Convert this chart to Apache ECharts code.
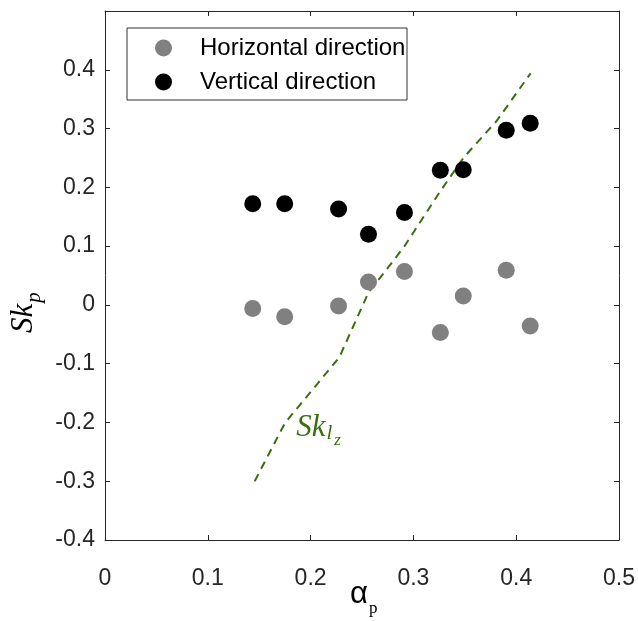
<!DOCTYPE html>
<html>
<head>
<meta charset="utf-8">
<script src="https://cdn.jsdelivr.net/npm/echarts@6/dist/echarts.min.js"></script>
<style>html,body{margin:0;padding:0;background:#fff}#c{width:638px;height:621px}</style>
</head>
<body>
<div id="c"></div>
<script>
// data
const alphaP = [0.1437, 0.1748, 0.2272, 0.2563, 0.2913, 0.3262, 0.3485, 0.3903, 0.4136];
const skHorizontal = [-0.006, -0.020, -0.002, 0.039, 0.057, -0.047, 0.015, 0.059, -0.036];
const skVertical = [0.172, 0.172, 0.163, 0.120, 0.157, 0.229, 0.230, 0.297, 0.309];
const lineX = [0.1456, 0.175, 0.228, 0.256, 0.291, 0.326, 0.349, 0.381, 0.414];
const lineY = [-0.300, -0.201, -0.089, 0.020, 0.099, 0.193, 0.251, 0.313, 0.394];
const xTicks = [0, 0.1, 0.2, 0.3, 0.4, 0.5];
const yTicks = [-0.4, -0.3, -0.2, -0.1, 0, 0.1, 0.2, 0.3, 0.4];
const seriesNames = ['Horizontal direction', 'Vertical direction'];

const zip = (a, b) => a.map((v, i) => [v, b[i]]);
const axisCol = '#262626';
const sans = 'Liberation Sans, Arial, Helvetica, sans-serif';
const serif = 'Liberation Serif, Times New Roman, serif';
const tickFont = {fontFamily: sans, fontSize: 23, color: axisCol};
const green = '#3a6e0c';

const chart = echarts.init(document.getElementById('c'), null, {renderer: 'canvas'});
const grid = {left: 105, top: 11, width: 515, height: 529};
const baseAxis = {
  axisLine: {show: true, onZero: false, lineStyle: {color: axisCol, width: 1}},
  axisTick: {show: true, inside: true, length: 5, lineStyle: {color: axisCol}},
  splitLine: {show: false}
};
chart.setOption({
  animation: false,
  grid: grid,
  xAxis: [
    Object.assign({type: 'value', min: 0, max: 0.5, interval: 0.1, position: 'bottom',
      axisLabel: Object.assign({margin: 27, formatter: v => xTicks.some(t => Math.abs(t - v) < 1e-9) ? String(+v.toFixed(2)) : ''}, tickFont)}, baseAxis),
    Object.assign({type: 'value', min: 0, max: 0.5, interval: 0.1, position: 'top', axisLabel: {show: false}}, baseAxis)
  ],
  yAxis: [
    Object.assign({type: 'value', min: -0.4, max: 0.5, interval: 0.1, position: 'left',
      axisLabel: Object.assign({margin: 10, formatter: v => yTicks.some(t => Math.abs(t - v) < 1e-9) ? String(+v.toFixed(2)) : ''}, tickFont)}, baseAxis),
    Object.assign({type: 'value', min: -0.4, max: 0.5, interval: 0.1, position: 'right', axisLabel: {show: false}}, baseAxis)
  ],
  legend: {
    orient: 'vertical', left: 150, top: 31, itemWidth: 17, itemHeight: 17, itemGap: 10,
    data: seriesNames.map(n => ({name: n, icon: 'circle'})),
    textStyle: {fontFamily: sans, fontSize: 24, lineHeight: 24, color: '#000', padding: [0, 0, 0, 23]}
  },
  series: [
    {name: 'Sklz', type: 'line', data: zip(lineX, lineY), symbol: 'none', silent: true,
      lineStyle: {color: green, width: 2, type: [8, 6]}, z: 1},
    {name: seriesNames[0], type: 'scatter', data: zip(alphaP, skHorizontal), symbolSize: 17,
      itemStyle: {color: '#808080', opacity: 1}, z: 3},
    {name: seriesNames[1], type: 'scatter', data: zip(alphaP, skVertical), symbolSize: 17,
      itemStyle: {color: '#000000', opacity: 1}, z: 3}
  ]
});

const lab = chart.convertToPixel({gridIndex: 0}, [0.186, -0.196]);
chart.setOption({
  graphic: [
    {type: 'rect', shape: {x: 127, y: 28, width: 280, height: 72}, style: {fill: 'none', stroke: '#333', lineWidth: 1}, z: 10},
    {type: 'text', x: lab[0], y: lab[1], style: {
      text: '{s|Sk}{l|l}{z|z}',
      rich: {
        s: {fontFamily: serif, fontStyle: 'italic', fontSize: 31, lineHeight: 31, fill: green, verticalAlign: 'bottom', padding: [0, 0, 8, 0]},
        l: {fontFamily: serif, fontStyle: 'italic', fontSize: 21, lineHeight: 21, fill: green, verticalAlign: 'bottom', padding: [0, 1, 7, 1]},
        z: {fontFamily: serif, fontStyle: 'italic', fontSize: 17, lineHeight: 17, fill: green, verticalAlign: 'bottom', padding: [0, 0, 2, 1]}
      }
    }, z: 10},
    {type: 'text', x: 350, y: 588, style: {
      text: '{a|α}{p|p}',
      rich: {
        a: {fontFamily: sans, fontSize: 31, lineHeight: 31, fill: '#000', verticalAlign: 'bottom', padding: [0, 0, 9, 0]},
        p: {fontFamily: serif, fontSize: 17, lineHeight: 17, fill: '#000', verticalAlign: 'bottom', padding: [0, 0, 2, 1]}
      }
    }, z: 10},
    {type: 'text', x: 16, y: 333, rotation: Math.PI / 2, style: {
      text: '{s|Sk}{p|p}',
      rich: {
        s: {fontFamily: serif, fontStyle: 'italic', fontSize: 31, lineHeight: 31, fill: '#000', verticalAlign: 'bottom', padding: [0, 0, 8, 0]},
        p: {fontFamily: serif, fontStyle: 'italic', fontSize: 21, lineHeight: 21, fill: '#000', verticalAlign: 'bottom', padding: [0, 0, 2, 1]}
      }
    }, z: 10}
  ]
});
</script>
</body>
</html>
